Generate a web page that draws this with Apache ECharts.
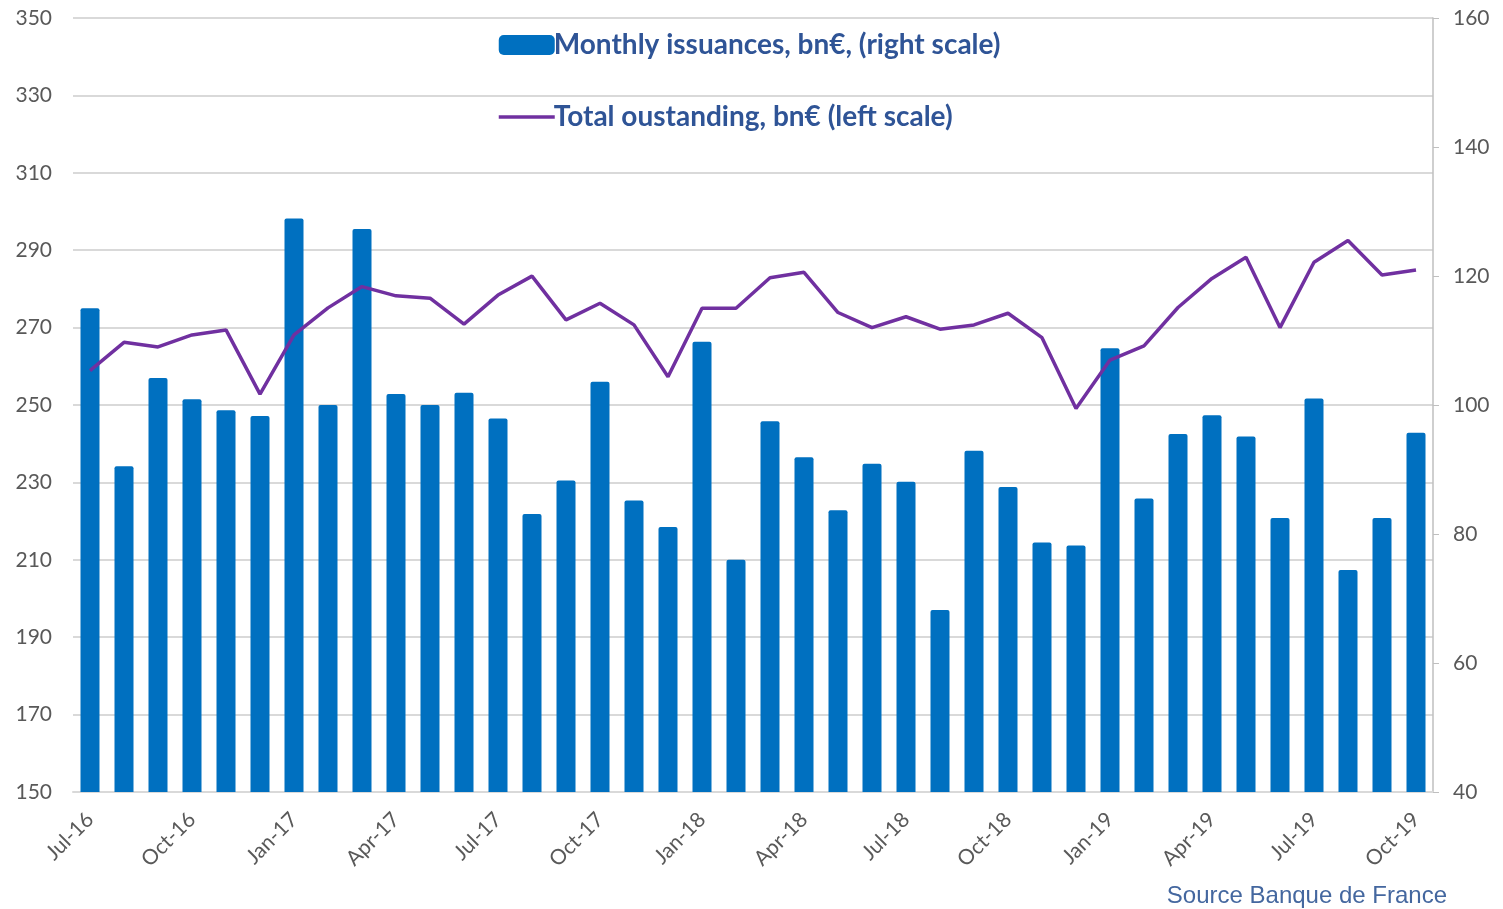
<!DOCTYPE html>
<html>
<head>
<meta charset="utf-8">
<title>Monthly issuances and total outstanding</title>
<script src="https://cdn.jsdelivr.net/npm/echarts@6/dist/echarts.min.js"></script>
<style>
    html, body { margin: 0; padding: 0; background: #ffffff; }
    #main { width: 1503px; height: 909px; }
</style>
</head>
<body>
<div id="main"></div>
<script>
// months, Jul-16 .. Oct-19
const months = ['Jul-16','Aug-16','Sep-16','Oct-16','Nov-16','Dec-16',
    'Jan-17','Feb-17','Mar-17','Apr-17','May-17','Jun-17',
    'Jul-17','Aug-17','Sep-17','Oct-17','Nov-17','Dec-17',
    'Jan-18','Feb-18','Mar-18','Apr-18','May-18','Jun-18',
    'Jul-18','Aug-18','Sep-18','Oct-18','Nov-18','Dec-18',
    'Jan-19','Feb-19','Mar-19','Apr-19','May-19','Jun-19',
    'Jul-19','Aug-19','Sep-19','Oct-19']

// monthly issuances, bn€ (right scale)
const issuances = [115.0, 90.5, 104.2, 100.9, 99.2, 98.3,
    128.9, 100.0, 127.3, 101.7, 100.0, 101.9,
    97.9, 83.1, 88.3, 103.6, 85.2, 81.1,
    109.8, 76.0, 97.5, 91.9, 83.7, 90.9,
    88.1, 68.2, 92.9, 87.3, 78.7, 78.2,
    108.8, 85.5, 95.5, 98.4, 95.1, 82.5,
    101.0, 74.4, 82.5, 95.7]

// total outstanding, bn€ (left scale)
const outstanding = [258.9, 266.2, 265.0, 268.1, 269.4, 252.8,
    268.1, 275.1, 280.6, 278.2, 277.6, 270.9,
    278.4, 283.3, 272.0, 276.3, 270.7, 257.3,
    275.0, 275.0, 282.9, 284.3, 273.9, 270.0,
    272.8, 269.6, 270.7, 273.7, 267.4, 249.1,
    261.6, 265.3, 275.2, 282.7, 288.2, 270.0,
    286.9, 292.5, 283.6, 284.9]

const leftTicks = [150, 350, 20]
const rightTicks = [40, 160, 20]

let myChart = echarts.init(document.getElementById('main'))
let labelFont = 'Lato, "Open Sans", sans-serif'

myChart.setOption({
    animation: false,
    grid: { left: 73, right: 70, top: 18, bottom: 117 },
    legend: {
        orient: 'vertical',
        left: 492,
        top: 24,
        itemGap: 40,
        itemWidth: 56,
        itemHeight: 20,
        textStyle: {
            color: '#2F5496',
            fontFamily: labelFont,
            fontWeight: 'bold',
            fontSize: 28,
            lineHeight: 32,
            padding: [0, 0, 0, -6]
        },
        data: [
            { name: 'Monthly issuances, bn€, (right scale)' },
            {
                name: 'Total oustanding, bn€ (left scale)',
                itemStyle: { opacity: 0 },
                lineStyle: { width: 3.5, color: '#7030A0' }
            }
        ]
    },
    xAxis: {
        type: 'category',
        data: months,
        boundaryGap: true,
        axisLine: { lineStyle: { color: '#d9d9d9', width: 2 } },
        axisTick: { interval: 2, length: 7, lineStyle: { color: '#d9d9d9', width: 2 } },
        axisLabel: {
            interval: 2,
            rotate: 45,
            margin: 24,
            color: '#595959',
            fontFamily: labelFont,
            fontSize: 21
        }
    },
    yAxis: [
        {
            type: 'value',
            min: leftTicks[0],
            max: leftTicks[1],
            interval: leftTicks[2],
            position: 'left',
            axisLine: { show: false },
            axisTick: { show: false },
            axisLabel: { color: '#595959', fontFamily: labelFont, fontSize: 21, margin: 21 },
            splitLine: { lineStyle: { color: '#d9d9d9', width: 2 } }
        },
        {
            type: 'value',
            min: rightTicks[0],
            max: rightTicks[1],
            interval: rightTicks[2],
            position: 'right',
            axisLine: { show: true, lineStyle: { color: '#bfbfbf', width: 1.5 } },
            axisTick: { show: true, length: 6, lineStyle: { color: '#bfbfbf' } },
            axisLabel: { color: '#595959', fontFamily: labelFont, fontSize: 21, margin: 20 },
            splitLine: { show: false }
        }
    ],
    series: [
        {
            name: 'Monthly issuances, bn€, (right scale)',
            type: 'bar',
            yAxisIndex: 1,
            data: issuances,
            barWidth: 19,
            itemStyle: { color: '#0070C0', borderRadius: [2, 2, 0, 0] }
        },
        {
            name: 'Total oustanding, bn€ (left scale)',
            type: 'line',
            yAxisIndex: 0,
            data: outstanding,
            symbol: 'none',
            lineStyle: { color: '#7030A0', width: 3.5 },
            itemStyle: { color: '#7030A0' }
        }
    ],
    graphic: [
        {
            type: 'text',
            right: 56,
            top: 884,
            style: {
                text: 'Source Banque de France',
                fill: '#44679F',
                font: '24px "Liberation Sans", Arial, sans-serif'
            }
        }
    ]
})
</script>
</body>
</html>
